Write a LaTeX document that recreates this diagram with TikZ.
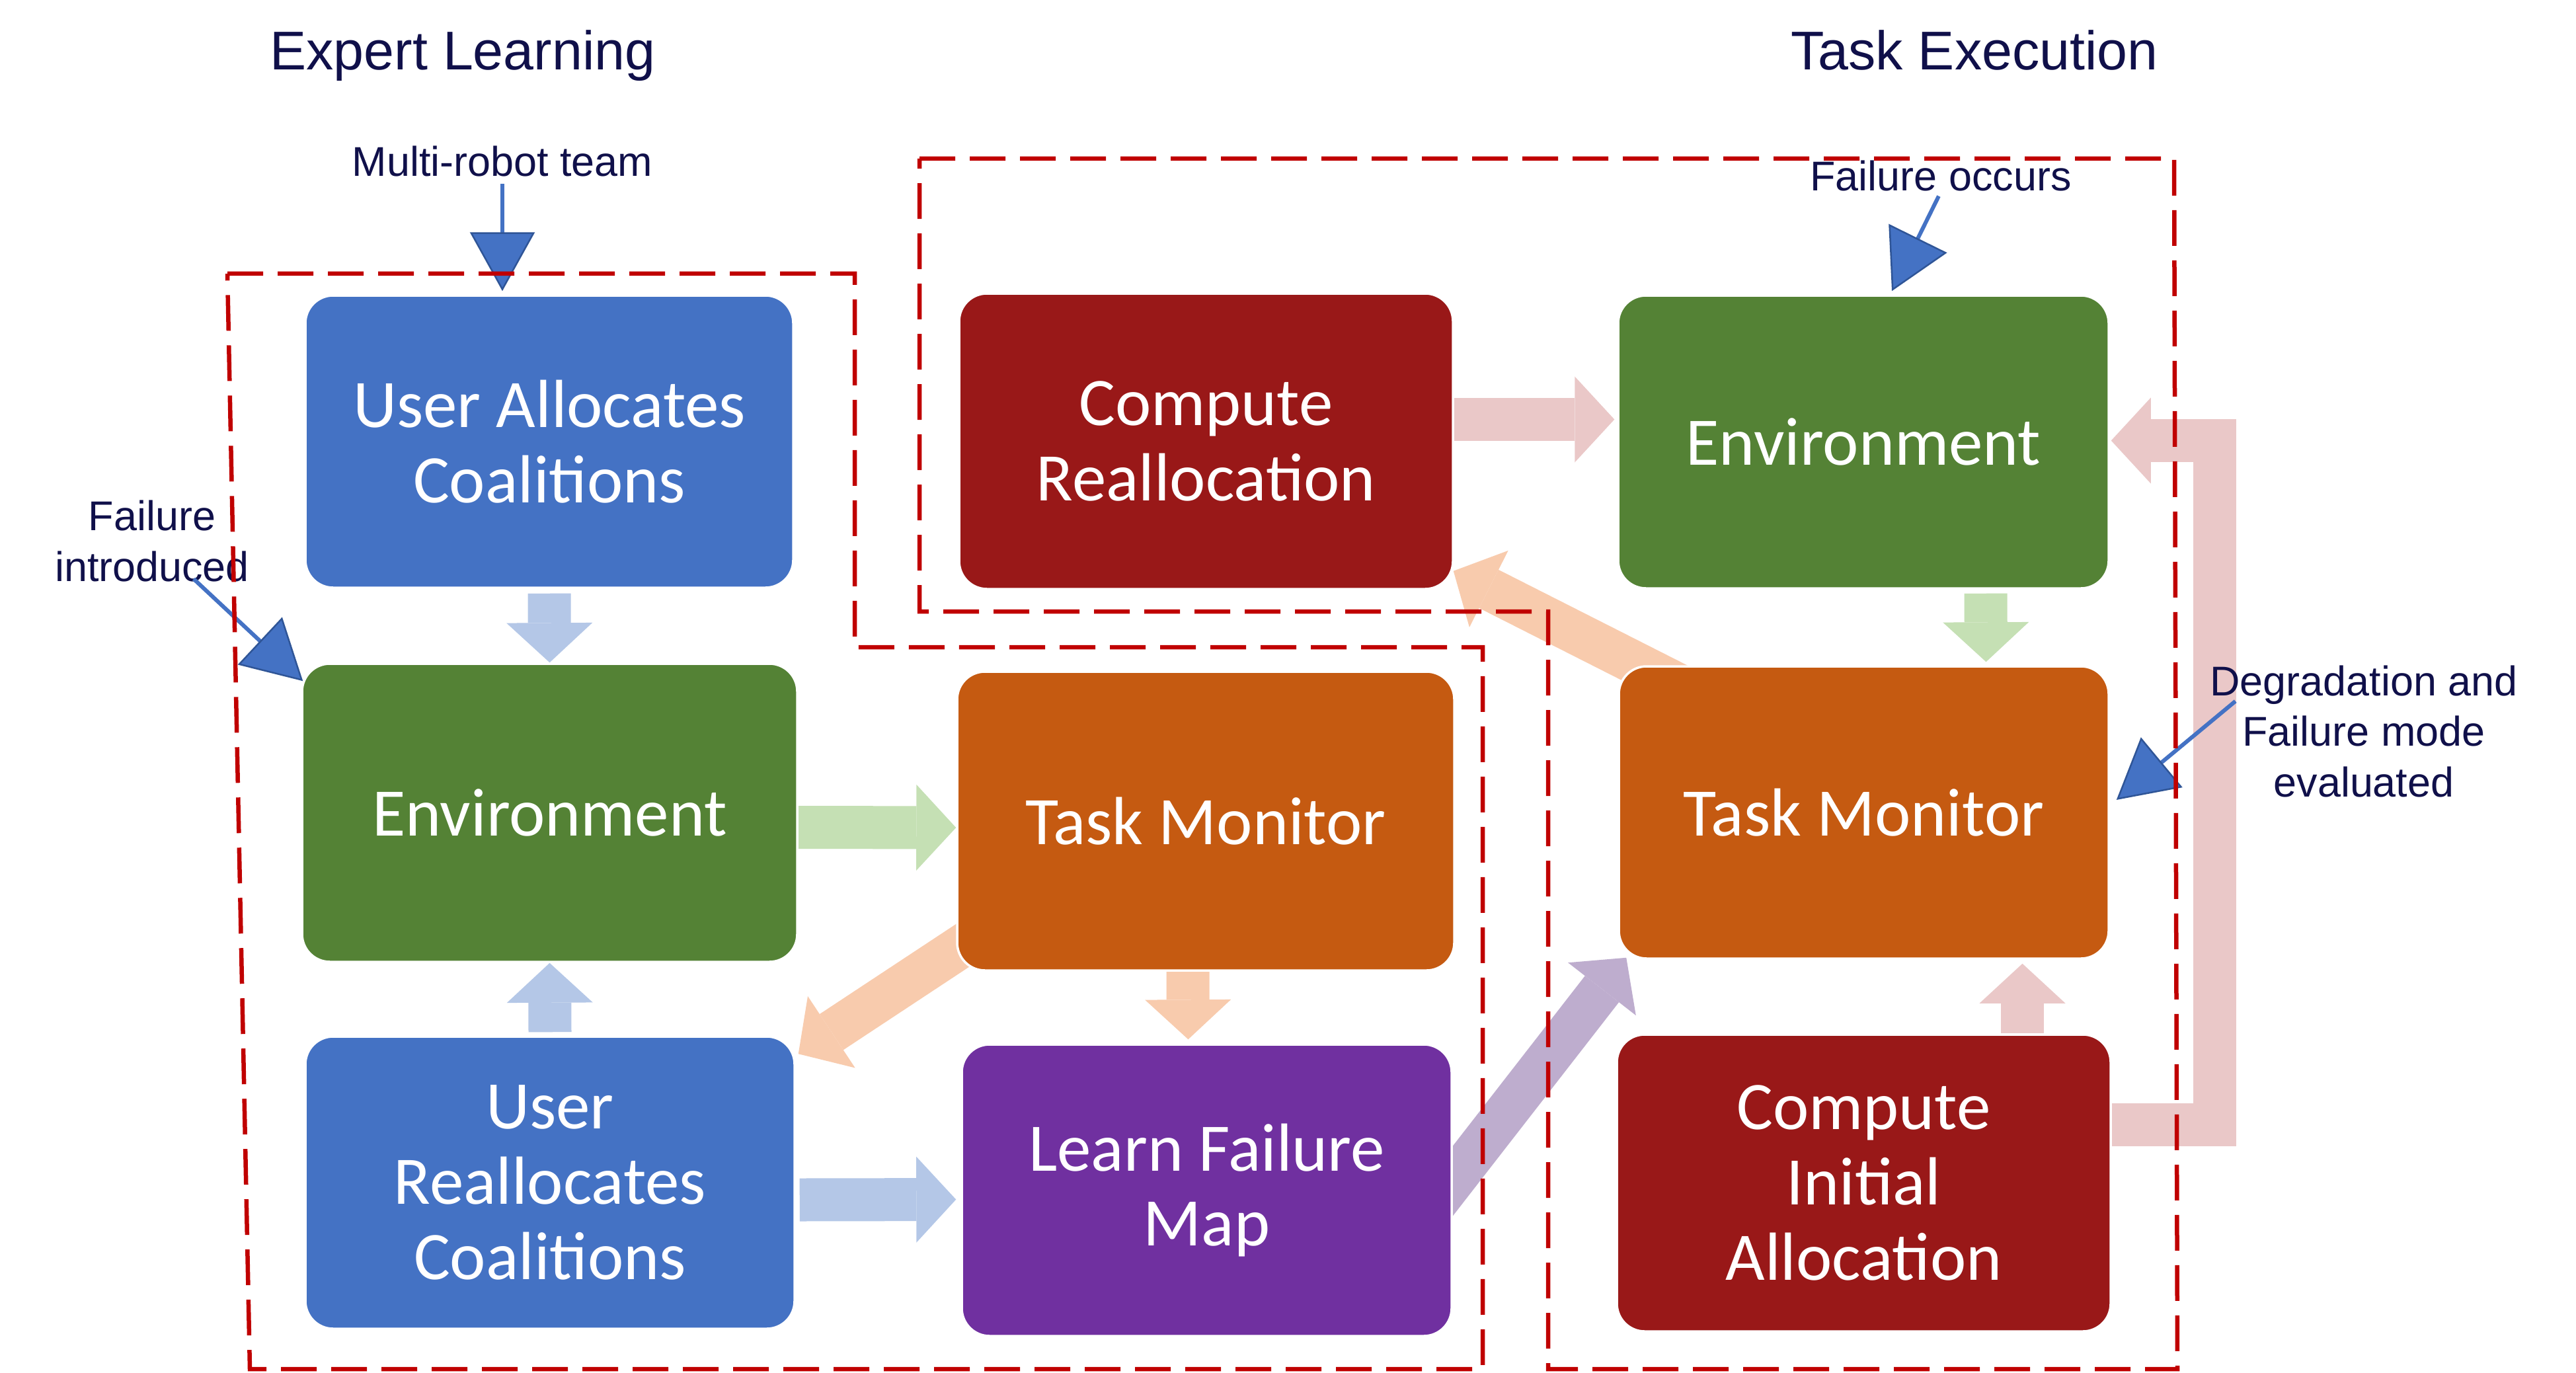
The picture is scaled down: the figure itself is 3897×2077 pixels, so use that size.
\documentclass[tikz,border=0pt]{standalone}
\usepackage{fontspec}
\newfontfamily\boxfont{Carlito}
\newfontfamily\annfont{Liberation Sans}
\usetikzlibrary{arrows.meta,calc}
\pgfdeclarelayer{background}
\pgfdeclarelayer{foreground}
\pgfsetlayers{background,main,foreground}

\definecolor{cblue}{HTML}{4472C4}
\definecolor{cgreen}{HTML}{548235}
\definecolor{corange}{HTML}{C55A11}
\definecolor{cpurple}{HTML}{7030A0}
\definecolor{cred}{HTML}{991818}
\definecolor{lblue}{HTML}{B4C7E7}
\definecolor{lgreen}{HTML}{C5E0B4}
\definecolor{lorange}{HTML}{F8CBAD}
\definecolor{lpurple}{HTML}{BEADCE}
\definecolor{lpink}{HTML}{EAC8C8}
\definecolor{navy}{HTML}{10104A}
\definecolor{dashred}{HTML}{C00000}
\definecolor{annedge}{HTML}{2F5597}

\begin{document}
\begin{tikzpicture}[x=0.1mm,y=-0.1mm,
  box/.style={rounded corners=4.2mm, draw=white, line width=0.35mm, text=white, align=center,
    font=\boxfont\fontsize{29.3}{32.4}\selectfont, inner sep=0pt},
  blk/.style={draw=#1, line width=6.5mm, line cap=butt, line join=miter,
    -{Triangle[length=6mm,width=13mm,line width=0pt]}},
  annot/.style={draw=cblue, line width=0.6mm,
    -{Triangle[length=8.9mm,width=9.8mm,color=annedge,fill=cblue,line width=0.25mm]}},
  anntext/.style={text=navy, font=\annfont\fontsize{17.9}{21.9}\selectfont, align=center, inner sep=0pt},
  ttl/.style={text=navy, font=\annfont\fontsize{23.5}{28}\selectfont, inner sep=0pt, anchor=base},
  region/.style={draw=dashred, line width=0.65mm, dash pattern=on 5.4mm off 2.2mm}
]
\useasboundingbox (0,0) rectangle (3897,2077);

% boxes
\node[box, fill=cblue,   minimum width=73.8mm, minimum height=44.2mm] (uac)  at (831,668)     {User Allocates\\Coalitions};
\node[box, fill=cgreen,  minimum width=74.9mm, minimum height=45.1mm] (envL) at (831.5,1229.5) {Environment};
\node[box, fill=cblue,   minimum width=74mm,   minimum height=44.2mm] (urc)  at (832,1789)    {User\\Reallocates\\Coalitions};
\node[box, fill=corange, minimum width=75.2mm, minimum height=45.2mm] (tmM)  at (1824,1242)   {Task Monitor};
\node[box, fill=cpurple, minimum width=74.1mm, minimum height=44.1mm] (lfm)  at (1825.5,1800.5) {Learn Failure\\Map};
\node[box, fill=cred,    minimum width=74.7mm, minimum height=44.7mm] (cr)   at (1824.5,667.5) {Compute\\Reallocation};
\node[box, fill=cgreen,  minimum width=74.2mm, minimum height=44.3mm] (envR) at (2819,668.5)  {Environment};
\node[box, fill=corange, minimum width=74.1mm, minimum height=44.2mm] (tmR)  at (2819.5,1229) {Task Monitor};
\node[box, fill=cred,    minimum width=74.7mm, minimum height=44.9mm] (cia)  at (2819.5,1789.5) {Compute\\Initial\\Allocation};

% block arrows (behind boxes)
\begin{pgfonlayer}{background}
\fill[white] (0,0) rectangle (3897,2077);
\draw[blk=lblue]   ($(uac.south)+(0,7)$) -- (envL.north);
\draw[blk=lgreen]  ($(envL.east)+(0,22)$) -- ($(tmM.west)+(0,10)$);
\draw[blk=lblue]   ($(urc.north)+(0,-5)$) -- (envL.south);
\draw[blk=lorange] ($(tmM.south west)+(91,-93)$) -- ($(urc.north east)+(4,28)$);
\draw[blk=lorange] ($(tmM.south)+(-27,0)$) -- ($(lfm.north)+(-28,-6)$);
\draw[blk=lblue]   ($(urc.east)+(6,26)$) -- ($(lfm.west)+(-7,14)$);
\draw[blk=lpurple] ($(lfm.east)+(-73,80)$) -- ($(tmR.south west)+(13,-3)$);
\draw[blk=lorange] ($(tmR.north west)+(104,36)$) -- ($(cr.south east)+(-1,-29)$);
\draw[blk=lpink]   ($(cia.north)+(240,0)$) -- ($(tmR.south)+(240,6)$);
\draw[blk=lpink]   ($(cia.east)+(0,-88)$) -- ++(156,0) |- ($(envR.east)+(2,-2)$);
\draw[blk=lpink]   ($(cr.east)+(0,-33)$) -- ($(envR.west)+(-4,-34)$);
\draw[blk=lgreen]  ($(envR.south)+(185,6)$) -- ($(tmR.north)+(185,-5)$);
\end{pgfonlayer}

% titles and annotations
\node[ttl] (t1) at (700,106) {Expert Learning};
\node[ttl] (t2) at (2987,106) {Task Execution};
\node[anntext, anchor=base] (mrt) at (760,267) {Multi-robot team};
\node[anntext] (fi) at (230,818.5) {Failure\\introduced};
\node[anntext, anchor=base] (fo) at (2936,289) {Failure occurs};
\node[anntext] (dg) at (3576,1106.5) {Degradation and\\Failure mode\\evaluated};

\draw[annot, shorten <=2.8pt] (mrt.south) -- ($(uac.north)+(-71,-5)$);
\draw[annot] ($(fi.south)+(63,-5)$) -- ($(envL.north west)+(3,28)$);
\draw[annot, shorten <=2pt] (fo.south) -- ($(envR.north)+(43,-5)$);
\draw[annot] ($(dg.north west)+(39,55)$) -- ($(tmR.east)+(10,-19)$);

% dashed regions
\begin{pgfonlayer}{foreground}
\draw[region] (344,414) -- (1293,414) -- (1293,979) -- (2243,979) -- (2243,2071) -- (378,2071) -- cycle;
\draw[region] (1391,240) -- (3289,240) -- (3294,2071) -- (2342,2071) -- (2342,925) -- (1391,925) -- cycle;
\end{pgfonlayer}
\end{tikzpicture}
\end{document}
